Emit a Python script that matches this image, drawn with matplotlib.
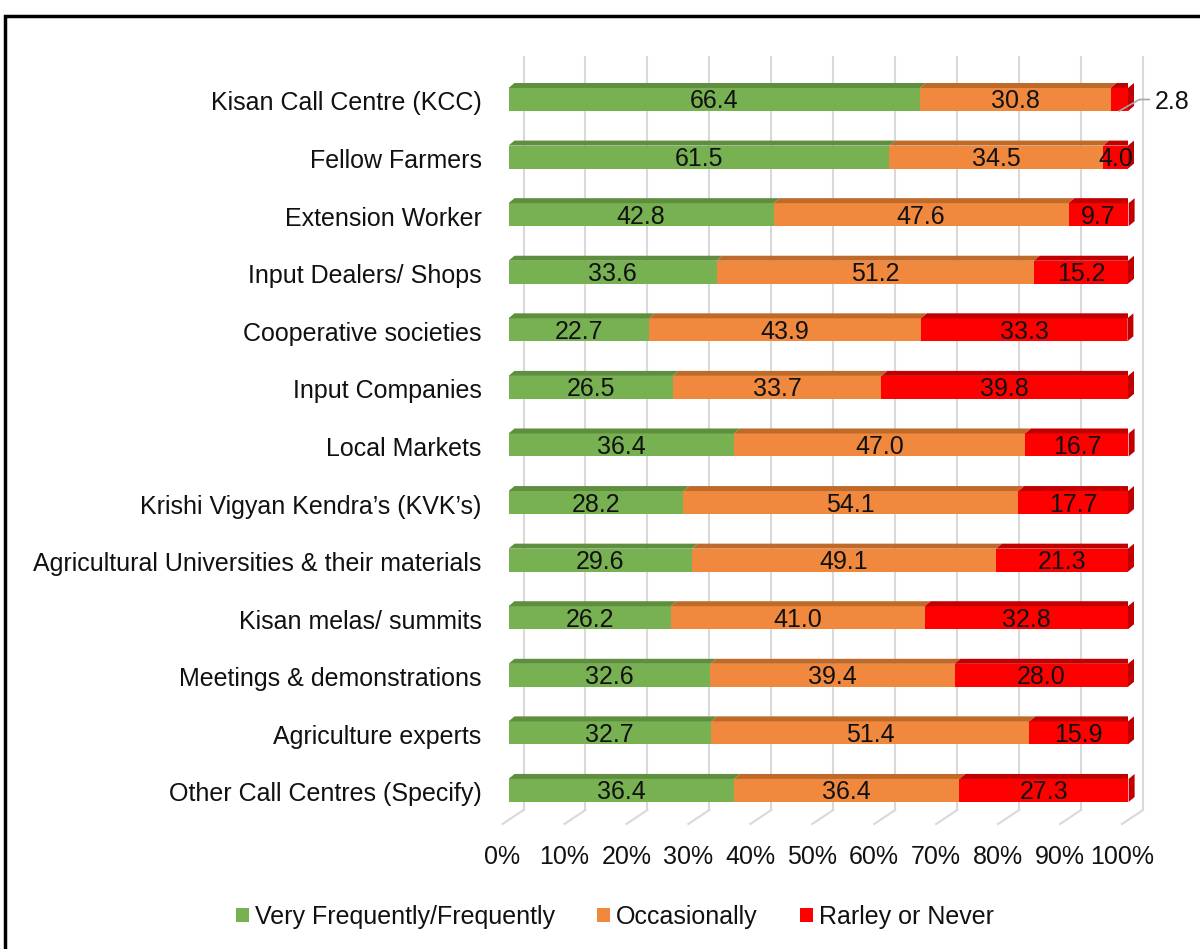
import matplotlib
matplotlib.use("Agg")
import matplotlib.pyplot as plt
from matplotlib.patches import Polygon, Rectangle

plt.rcParams['font.family'] = ['Liberation Sans', 'DejaVu Sans']

# data
sources = ["Kisan Call Centre (KCC)", "Fellow Farmers", "Extension Worker",
           "Input Dealers/ Shops", "Cooperative societies", "Input Companies",
           "Local Markets", "Krishi Vigyan Kendra\u2019s (KVK\u2019s)",
           "Agricultural Universities & their materials", "Kisan melas/ summits",
           "Meetings & demonstrations", "Agriculture experts",
           "Other Call Centres (Specify)"]
frequent = [66.4, 61.5, 42.8, 33.6, 22.7, 26.5, 36.4, 28.2, 29.6, 26.2, 32.6, 32.7, 36.4]
occasional = [30.8, 34.5, 47.6, 51.2, 43.9, 33.7, 47.0, 54.1, 49.1, 41.0, 39.4, 51.4, 36.4]
rarely = [2.8, 4.0, 9.7, 15.2, 33.3, 39.8, 16.7, 17.7, 21.3, 32.8, 28.0, 15.9, 27.3]
series_names = ["Very Frequently/Frequently", "Occasionally", "Rarley or Never"]
tick_vals = list(range(0, 101, 10))

front_cols = ["#78b152", "#f0893e", "#ff0000"]
top_cols = ["#5f8e3e", "#c06a2a", "#c00000"]
txt_col = "#111111"
fs = 18

W, H = 1200, 949
fig = plt.figure(figsize=(W / 100, H / 100), dpi=100)

# axes placed so 0..100 maps to the bar front faces
px_x0, px_x1 = 508.5, 1128.0
row0, row_step = 99.5, 57.58
ylim_top, ylim_bot = -1.0, 12.6
ax_top_px = row0 + ylim_top * row_step
ax_bot_px = row0 + ylim_bot * row_step
ax = fig.add_axes([px_x0 / W, 1 - ax_bot_px / H, (px_x1 - px_x0) / W,
                   (ax_bot_px - ax_top_px) / H])
ax.set_xlim(0, 100)
ax.set_ylim(ylim_bot, ylim_top)
ax.axis('off')

ux = 100 / (px_x1 - px_x0)   # data units per pixel in x
uy = 1 / row_step            # data units per pixel in y

# back wall gridlines + floor
back_dx, back_top, back_bot = 15 * ux, (57 - row0) * uy, (810 - row0) * uy
floor_dx, floor_dy = -6 * ux, 14 * uy
for t in tick_vals:
    ax.plot([t + back_dx, t + back_dx], [back_top, back_bot], color="#d9d9d9",
            lw=1.5, clip_on=False, zorder=0)
    ax.plot([t + back_dx, t + floor_dx], [back_bot, back_bot + floor_dy],
            color="#d9d9d9", lw=1.5, clip_on=False, zorder=0)
    ax.text(t + floor_dx, back_bot + floor_dy + 33 * uy, f"{t}%", ha='center',
            va='center', fontsize=fs, color=txt_col)

# bars with a shallow 3d top / end face
bh = 23 * uy
ddx, ddy = 6 * ux, -5 * uy
ypos = list(range(len(sources)))
all_series = [frequent, occasional, rarely]
lefts = [0.0] * len(sources)
for k, vals in enumerate(all_series):
    ax.barh(ypos, vals, left=lefts, height=bh, color=front_cols[k],
            edgecolor='none', zorder=3, label=series_names[k])
    for i, v in enumerate(vals):
        l, r, yt = lefts[i], lefts[i] + v, ypos[i] - bh / 2
        ax.add_patch(Polygon([(l, yt), (r, yt), (r + ddx, yt + ddy), (l + ddx, yt + ddy)],
                             closed=True, color=top_cols[k], lw=0, zorder=3))
        if k == len(all_series) - 1:
            yb = ypos[i] + bh / 2
            ax.add_patch(Polygon([(r, yt), (r + ddx, yt + ddy), (r + ddx, yb + ddy), (r, yb)],
                                 closed=True, color=top_cols[k], lw=0, zorder=3,
                                 clip_on=False))
        cx = l + v / 2
        if v < 3.5:
            # small value: callout to the right
            yb = ypos[i] + bh / 2
            ax.plot([cx, cx + 20 * ux, cx + 30 * ux], [yb, ypos[i], ypos[i]],
                    color="#a6a6a6", lw=1.2, clip_on=False, zorder=4)
            ax.text(cx + 35 * ux, ypos[i] + 3 * uy, f"{v:.1f}", ha='left', va='center',
                    fontsize=fs, color=txt_col, clip_on=False)
        else:
            ax.text(cx, ypos[i] + 2 * uy, f"{v:.1f}", ha='center', va='center',
                    fontsize=fs, color=txt_col, zorder=5)
    lefts = [lefts[i] + vals[i] for i in range(len(vals))]

# category labels
for i, name in enumerate(sources):
    ax.text(-27 * ux, ypos[i] + 4 * uy, name, ha='right', va='center',
            fontsize=fs, color=txt_col)

# legend
leg = fig.legend(loc='center', bbox_to_anchor=(615 / W, 1 - 917 / H), ncol=3,
                 frameon=False, fontsize=fs, handlelength=0.5, handleheight=0.5,
                 handletextpad=0.25, columnspacing=1.7)
for t in leg.get_texts():
    t.set_color(txt_col)

# outer frame
fig.add_artist(Rectangle((5 / W, -0.05), 1.1, 1 - 16 / H + 0.05, transform=fig.transFigure,
                         fill=False, edgecolor='black', lw=2.5))

fig.savefig("out.png", dpi=100)
